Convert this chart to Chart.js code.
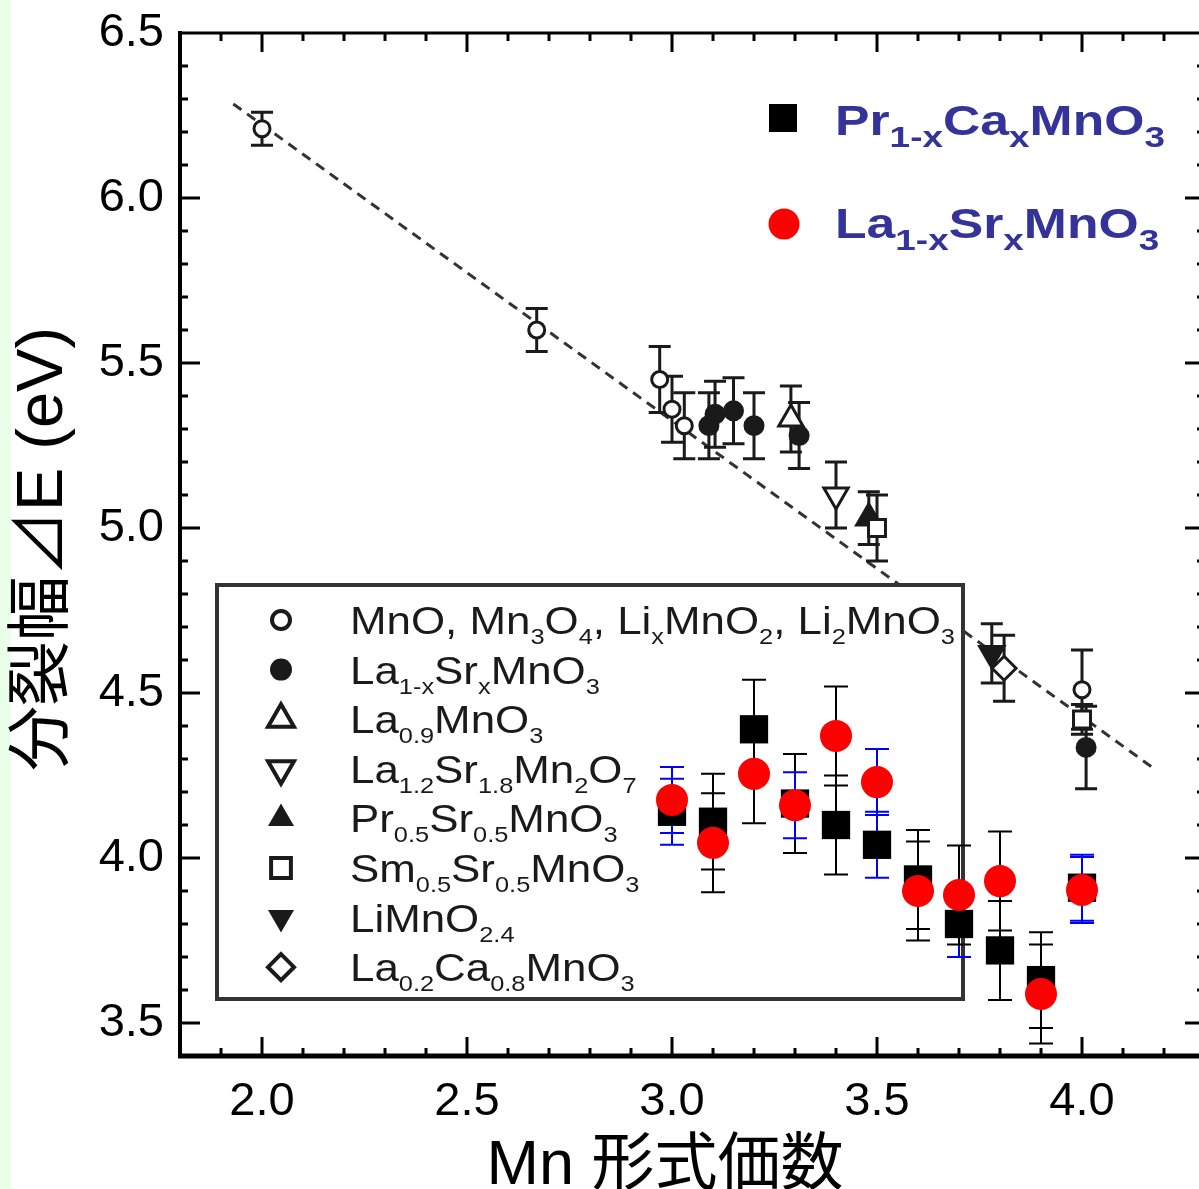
<!DOCTYPE html>
<html>
<head>
<meta charset="utf-8">
<title>分裂幅 と Mn 形式価数</title>
<style>
    html, body {
        margin: 0;
        padding: 0;
        background: #fff;
        overflow: hidden;
    }
    #chart { display: block; }
</style>
<script src="https://cdn.jsdelivr.net/npm/chart.js"></script>
</head>
<body>
<canvas id="chart" width="1210" height="1189"></canvas>
<script>
// ---- values ----
const xTicks = [2.0, 2.5, 3.0, 3.5, 4.0];
const yTicks = [3.5, 4.0, 4.5, 5.0, 5.5, 6.0, 6.5];

// literature points (black symbols)
const mnOxX = [2.0, 2.67, 2.97, 3.0, 3.03, 4.0];
const mnOxY = [6.21, 5.60, 5.45, 5.36, 5.31, 4.51];
const mnOxErr = [0.05, 0.065, 0.1, 0.1, 0.1, 0.12];

const lsmoLitX = [3.09, 3.105, 3.15, 3.2, 3.31, 4.01];
const lsmoLitY = [5.31, 5.345, 5.355, 5.31, 5.28, 4.335];
const lsmoLitErr = [0.1, 0.1, 0.1, 0.1, 0.1, 0.125];

const la09X = [3.29];
const la09Y = [5.33];
const la09Err = [0.1];

const la12X = [3.40];
const la12Y = [5.10];
const la12Err = [0.1];

const pr05X = [3.48];
const pr05Y = [5.03];
const pr05Err = [0.08];

const sm05X = [3.50, 4.0];
const sm05Y = [5.00, 4.42];
const sm05Err = [0.1, 0.045];

const limnX = [3.78];
const limnY = [4.62];
const limnErr = [0.09];

const la02X = [3.81];
const la02Y = [4.575];
const la02Err = [0.1];

// dashed guide line (end points)
const fitX = [1.93, 4.18];
const fitY = [6.285, 4.267];

// this work
const valence = [3.0, 3.1, 3.2, 3.3, 3.4, 3.5, 3.6, 3.7, 3.8, 3.9, 4.0];
const pcmoGap = [4.14, 4.11, 4.39, 4.165, 4.10, 4.04, 3.935, 3.80, 3.72, 3.63, 3.91];
const pcmoErr = [0.1, 0.145, 0.15, 0.15, 0.15, 0.1, 0.15, 0.1, 0.15, 0.145, 0.1];
const lsmoGap = [4.176, 4.046, 4.255, 4.16, 4.37, 4.23, 3.90, 3.888, 3.93, 3.588, 3.903];
const lsmoErr = [0.1, 0.15, 0.15, 0.1, 0.15, 0.1, 0.15, 0.15, 0.15, 0.15, 0.1];

const insetLabels = [
    'MnO, Mn_{3}O_{4}, Li_{x}MnO_{2}, Li_{2}MnO_{3}',
    'La_{1-x}Sr_{x}MnO_{3}',
    'La_{0.9}MnO_{3}',
    'La_{1.2}Sr_{1.8}Mn_{2}O_{7}',
    'Pr_{0.5}Sr_{0.5}MnO_{3}',
    'Sm_{0.5}Sr_{0.5}MnO_{3}',
    'LiMnO_{2.4}',
    'La_{0.2}Ca_{0.8}MnO_{3}'
];
const mainLabels = ['Pr_{1-x}Ca_{x}MnO_{3}', 'La_{1-x}Sr_{x}MnO_{3}'];
const xTitle = 'Mn 形式価数';
const yTitle = '分裂幅⊿E (eV)';

// ---- styles ----
// error bar colours per point, as in the picture (b = blue, k = black)
const pcmoErrColor = ['b', 'k', 'k', 'k', 'k', 'b', 'k', 'b', 'k', 'k', 'b'];
const lsmoErrColor = ['b', 'k', 'k', 'b', 'k', 'b', 'k', 'k', 'k', 'k', 'b'];
const COLORS = { k: '#000', b: '#0000ff' };
const BLUE_TEXT = '#333399';
const INK = '#1a1a1a';

const litSets = [
    { x: mnOxX, y: mnOxY, err: mnOxErr, shape: 'circle', filled: false },
    { x: lsmoLitX, y: lsmoLitY, err: lsmoLitErr, shape: 'circle', filled: true },
    { x: la09X, y: la09Y, err: la09Err, shape: 'triUp', filled: false },
    { x: la12X, y: la12Y, err: la12Err, shape: 'triDown', filled: false },
    { x: pr05X, y: pr05Y, err: pr05Err, shape: 'triUp', filled: true },
    { x: sm05X, y: sm05Y, err: sm05Err, shape: 'square', filled: false },
    { x: limnX, y: limnY, err: limnErr, shape: 'triDown', filled: true },
    { x: la02X, y: la02Y, err: la02Err, shape: 'diamond', filled: false }
];

const shapeStyle = {
    circle:  { pointStyle: 'circle', rotation: 0, r: 8 },
    triUp:   { pointStyle: 'triangle', rotation: 0, r: 14 },
    triDown: { pointStyle: 'triangle', rotation: 180, r: 14 },
    square:  { pointStyle: 'rect', rotation: 0, r: 12 },
    diamond: { pointStyle: 'rectRot', rotation: 0, r: 12 }
};

function pts(xs, ys) {
    return xs.map((v, i) => ({ x: v, y: ys[i] }));
}

const datasets = [];
datasets.push({
    type: 'line',
    data: pts(fitX, fitY),
    borderColor: '#333',
    borderWidth: 3,
    borderDash: [10, 7],
    pointRadius: 0,
    fill: false,
    order: 40
});
litSets.forEach((s, i) => {
    const st = shapeStyle[s.shape];
    const r = s.filled && s.shape === 'circle' ? 9 : st.r;
    datasets.push({
        data: pts(s.x, s.y),
        errors: s.err,
        errLineWidth: 3,
        errCap: 22,
        pointStyle: st.pointStyle,
        rotation: st.rotation,
        pointRadius: r,
        pointHoverRadius: r,
        pointBorderWidth: 3,
        pointBorderColor: INK,
        pointBackgroundColor: s.filled ? INK : '#fff',
        order: 30 - i
    });
});
datasets.push({
    id: 'pcmo',
    data: pts(valence, pcmoGap),
    errors: pcmoErr,
    errColors: pcmoErrColor,
    errLineWidth: 2,
    errCap: 24,
    pointStyle: 'rect',
    pointRadius: 20,
    pointHoverRadius: 20,
    pointBorderWidth: 0,
    pointBackgroundColor: '#000',
    order: 2
});
datasets.push({
    id: 'lsmo',
    data: pts(valence, lsmoGap),
    errors: lsmoErr,
    errColors: lsmoErrColor,
    errLineWidth: 2,
    errCap: 24,
    pointStyle: 'circle',
    pointRadius: 16,
    pointHoverRadius: 16,
    pointBorderWidth: 0,
    pointBackgroundColor: '#ff0000',
    order: 1
});

// ---- drawing helpers ----
function drawErrors(chart, ds) {
    const ctx = chart.ctx;
    const xs = chart.scales.x, ys = chart.scales.y;
    ctx.save();
    ctx.lineWidth = ds.errLineWidth;
    ds.data.forEach((p, i) => {
        const e = ds.errors[i];
        const px = xs.getPixelForValue(p.x);
        const top = ys.getPixelForValue(p.y + e);
        const bot = ys.getPixelForValue(p.y - e);
        const h = ds.errCap / 2;
        ctx.strokeStyle = ds.errColors ? COLORS[ds.errColors[i]] : INK;
        ctx.beginPath();
        ctx.moveTo(px, top); ctx.lineTo(px, bot);
        ctx.moveTo(px - h, top); ctx.lineTo(px + h, top);
        ctx.moveTo(px - h, bot); ctx.lineTo(px + h, bot);
        ctx.stroke();
    });
    ctx.restore();
}

function parseFormula(str) {
    const parts = [];
    const re = /_\{([^}]*)\}/g;
    let last = 0, m;
    while ((m = re.exec(str)) !== null) {
        if (m.index > last) parts.push({ t: str.slice(last, m.index), sub: false });
        parts.push({ t: m[1], sub: true });
        last = re.lastIndex;
    }
    if (last < str.length) parts.push({ t: str.slice(last), sub: false });
    return parts;
}

function fontFor(o, sub) {
    return (o.bold ? 'bold ' : '') + (sub ? o.subSize : o.size) + 'px "Liberation Sans", Arial, sans-serif';
}

function formulaWidth(ctx, str, o) {
    let w = 0;
    parseFormula(str).forEach(p => {
        ctx.font = fontFor(o, p.sub);
        w += ctx.measureText(p.t).width;
    });
    return w;
}

function drawFormula(ctx, str, x, y, o) {
    ctx.save();
    ctx.translate(x, y);
    ctx.scale(o.sx || 1, 1);
    ctx.fillStyle = o.color;
    ctx.textAlign = 'left';
    ctx.textBaseline = 'alphabetic';
    let cx = 0;
    parseFormula(str).forEach(p => {
        ctx.font = fontFor(o, p.sub);
        ctx.fillText(p.t, cx, p.sub ? o.subDy : 0);
        cx += ctx.measureText(p.t).width;
    });
    ctx.restore();
}

function markPath(ctx, shape, x, y, r) {
    ctx.beginPath();
    if (shape === 'circle') {
        ctx.arc(x, y, r, 0, Math.PI * 2);
    } else if (shape === 'triUp' || shape === 'triDown') {
        const s = shape === 'triUp' ? 1 : -1;
        for (let k = 0; k < 3; k++) {
            const a = k * 2 * Math.PI / 3;
            const px = x + Math.sin(a) * r;
            const py = y - s * Math.cos(a) * r;
            if (k === 0) ctx.moveTo(px, py); else ctx.lineTo(px, py);
        }
        ctx.closePath();
    } else if (shape === 'square') {
        const h = r * Math.SQRT1_2;
        ctx.rect(x - h, y - h, 2 * h, 2 * h);
    } else if (shape === 'diamond') {
        ctx.moveTo(x, y - r); ctx.lineTo(x + r, y);
        ctx.lineTo(x, y + r); ctx.lineTo(x - r, y);
        ctx.closePath();
    }
}

function drawInset(chart) {
    const ctx = chart.ctx;
    ctx.save();
    ctx.fillStyle = '#fff';
    ctx.fillRect(217, 585, 746, 414);
    ctx.strokeStyle = '#333';
    ctx.lineWidth = 4;
    ctx.strokeRect(217, 585, 746, 414);

    const fo = { size: 38, subSize: 22, subDy: 10, color: INK, bold: false };
    fo.sx = 605 / formulaWidth(ctx, insetLabels[0], fo);
    const inkR = { circle: 9, triUp: 15, triDown: 15, square: 14, diamond: 13 };
    litSets.forEach((s, i) => {
        const cy = 620 + i * 49.6;
        const r = s.filled && s.shape === 'circle' ? 11 : inkR[s.shape];
        markPath(ctx, s.shape, 281, cy, r);
        if (s.filled) {
            ctx.fillStyle = INK;
            ctx.fill();
        } else {
            ctx.fillStyle = '#fff';
            ctx.fill();
            ctx.lineWidth = 4;
            ctx.strokeStyle = INK;
            ctx.stroke();
        }
        drawFormula(ctx, insetLabels[i], 350, cy + 14, fo);
    });
    ctx.restore();
}

const errorBarPlugin = {
    id: 'errorBarPlugin',
    beforeDatasetDraw(chart, args) {
        const ds = chart.data.datasets[args.index];
        if (ds.id === 'pcmo') {
            drawInset(chart);
            drawErrors(chart, ds);
            drawErrors(chart, chart.data.datasets.find(d => d.id === 'lsmo'));
        } else if (ds.errors && ds.id !== 'lsmo') {
            drawErrors(chart, ds);
        }
    }
};

const framePlugin = {
    id: 'framePlugin',
    beforeDraw(chart) {
        const ctx = chart.ctx;
        ctx.save();
        ctx.fillStyle = '#fff';
        ctx.fillRect(0, 0, chart.width, chart.height);
        ctx.fillStyle = '#eaffea';
        ctx.fillRect(0, 0, 11, chart.height);
        ctx.restore();
    },
    afterDraw(chart) {
        const ctx = chart.ctx;
        const a = chart.chartArea;
        const xs = chart.scales.x, ys = chart.scales.y;
        ctx.save();
        ctx.strokeStyle = '#000';
        ctx.lineCap = 'butt';
        // inward ticks, 0.1 apart, long ones every 0.5
        ctx.lineWidth = 3;
        for (let i = 19; i <= 42; i++) {
            const px = xs.getPixelForValue(i / 10);
            const len = i % 5 === 0 ? 19 : 8;
            ctx.beginPath();
            ctx.moveTo(px, a.bottom); ctx.lineTo(px, a.bottom - len);
            ctx.moveTo(px, a.top); ctx.lineTo(px, a.top + len);
            ctx.stroke();
        }
        for (let i = 35; i <= 64; i++) {
            const py = ys.getPixelForValue(i / 10);
            const len = i % 5 === 0 ? 20 : 8;
            ctx.beginPath();
            ctx.moveTo(a.left, py); ctx.lineTo(a.left + len, py);
            ctx.moveTo(a.right, py); ctx.lineTo(a.right - len, py);
            ctx.stroke();
        }
        // frame
        ctx.lineWidth = 4;
        ctx.beginPath();
        ctx.moveTo(a.left, a.top - 2); ctx.lineTo(a.left, a.bottom + 2);
        ctx.moveTo(a.right, a.top - 2); ctx.lineTo(a.right, a.bottom + 2);
        ctx.stroke();
        ctx.lineWidth = 5;
        ctx.beginPath();
        ctx.moveTo(a.left - 2, a.bottom); ctx.lineTo(a.right + 2, a.bottom);
        ctx.stroke();
        ctx.lineWidth = 3;
        ctx.beginPath();
        ctx.moveTo(a.left - 2, a.top); ctx.lineTo(a.right + 2, a.top);
        ctx.stroke();

        // axis titles
        ctx.fillStyle = '#000';
        ctx.font = '63px "Liberation Sans", "Noto Sans CJK JP", sans-serif';
        ctx.textAlign = 'center';
        ctx.textBaseline = 'alphabetic';
        ctx.fillText(xTitle, 665, 1184);
        ctx.save();
        ctx.translate(44, 549);
        ctx.rotate(-Math.PI / 2);
        ctx.textBaseline = 'middle';
        ctx.font = '65px "Liberation Sans", "Noto Sans CJK JP", sans-serif';
        ctx.fillText(yTitle, 0, 0);
        ctx.restore();

        // legend, top right
        ctx.fillStyle = '#000';
        ctx.fillRect(769, 104, 28, 28);
        ctx.fillStyle = '#ff0000';
        ctx.beginPath();
        ctx.arc(784, 224, 15.5, 0, Math.PI * 2);
        ctx.fill();
        const lo = { size: 42, subSize: 30, subDy: 12, color: BLUE_TEXT, bold: true };
        lo.sx = 330 / formulaWidth(ctx, mainLabels[0], lo);
        drawFormula(ctx, mainLabels[0], 835, 135, lo);
        drawFormula(ctx, mainLabels[1], 835, 238, lo);
        ctx.restore();
    }
};

Chart.defaults.font.family = '"Liberation Sans", Arial, sans-serif';

new Chart(document.getElementById('chart').getContext('2d'), {
    type: 'scatter',
    data: { datasets: datasets },
    options: {
        responsive: false,
        animation: false,
        events: [],
        layout: {
            autoPadding: false,
            padding: { top: 33, right: 5, left: 0, bottom: 0 }
        },
        plugins: {
            legend: { display: false },
            tooltip: { enabled: false }
        },
        scales: {
            x: {
                type: 'linear',
                min: 1.8,
                max: 4.3,
                afterBuildTicks: s => { s.ticks = xTicks.map(v => ({ value: v })); },
                afterFit: s => {
                    s.height = 133;
                    s.paddingLeft = 0; s.paddingRight = 0;
                    s.paddingTop = 0; s.paddingBottom = 0;
                },
                grid: { display: false, drawTicks: false },
                border: { display: false },
                ticks: {
                    padding: 18,
                    color: '#000',
                    font: { size: 47 },
                    maxRotation: 0,
                    autoSkip: false,
                    callback: v => Number(v).toFixed(1)
                }
            },
            y: {
                type: 'linear',
                min: 3.4,
                max: 6.5,
                afterBuildTicks: s => { s.ticks = yTicks.map(v => ({ value: v })); },
                afterFit: s => {
                    s.width = 180;
                    s.paddingLeft = 0; s.paddingRight = 0;
                    s.paddingTop = 0; s.paddingBottom = 0;
                },
                grid: { display: false, drawTicks: false },
                border: { display: false },
                ticks: {
                    padding: 16,
                    color: '#000',
                    font: { size: 47 },
                    autoSkip: false,
                    callback: v => Number(v).toFixed(1)
                }
            }
        }
    },
    plugins: [framePlugin, errorBarPlugin]
});
</script>
</body>
</html>
